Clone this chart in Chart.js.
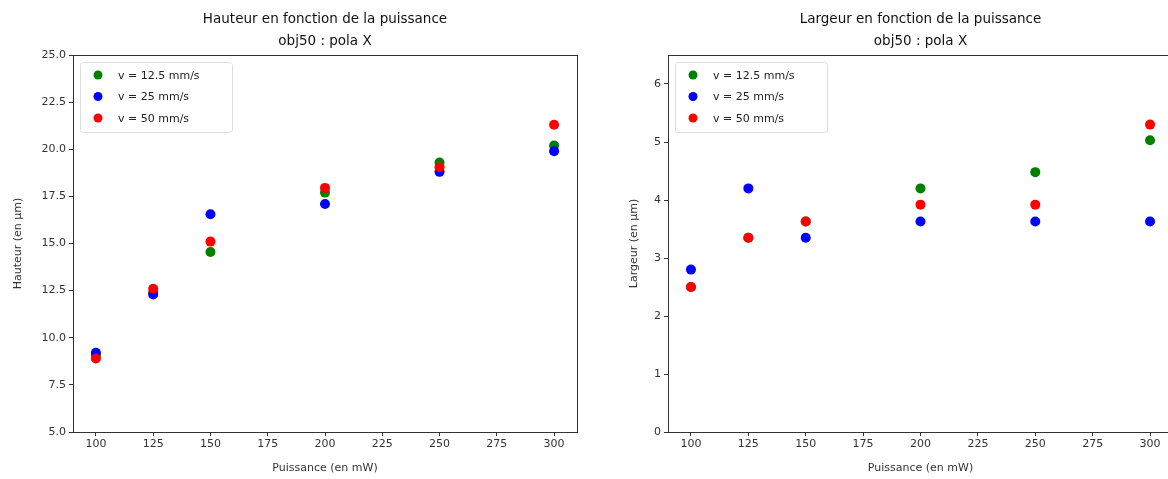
<!DOCTYPE html>
<html>
<head>
<meta charset="utf-8">
<script src="https://cdn.jsdelivr.net/npm/chart.js@4.4.0/dist/chart.umd.min.js"></script>
<style>
  html, body { margin: 0; padding: 0; background: #fff; overflow: hidden; }
  body { width: 1168px; height: 479px; position: relative; }
  .box { position: absolute; top: 0; height: 479px; }
  #leftBox { left: 0; width: 600px; }
  #rightBox { left: 590px; width: 610px; }
</style>
</head>
<body>
<div class="box" id="leftBox"><canvas id="hauteur"></canvas></div>
<div class="box" id="rightBox"><canvas id="largeur"></canvas></div>
<script>
// puissance (mW)
const power = [100, 125, 150, 200, 250, 300];
const powerTicks = [100, 125, 150, 175, 200, 225, 250, 275, 300];

const seriesLabels = ['v = 12.5 mm/s', 'v = 25 mm/s', 'v = 50 mm/s'];
const seriesColors = ['#008000', '#0000ff', '#ff0000'];

// hauteur (µm)
const height125 = [9.05, 12.4, 14.55, 17.7, 19.3, 20.2];
const height25 = [9.2, 12.3, 16.55, 17.1, 18.8, 19.9];
const height50 = [8.9, 12.6, 15.1, 17.95, 19.05, 21.3];
const heightTicks = [5, 7.5, 10, 12.5, 15, 17.5, 20, 22.5, 25];

// largeur (µm)
const width125 = [2.5, 3.35, 3.63, 4.2, 4.48, 5.03];
const width25 = [2.8, 4.2, 3.35, 3.63, 3.63, 3.63];
const width50 = [2.5, 3.35, 3.63, 3.92, 3.92, 5.3];
const widthTicks = [0, 1, 2, 3, 4, 5, 6];

Chart.defaults.font.family = 'DejaVu Sans';
Chart.defaults.color = '#333';

const frameAndLegend = {
  id: 'frameAndLegend',
  afterDraw(chart, args, opts) {
    const ctx = chart.ctx;
    const a = chart.chartArea;
    ctx.save();
    // spines
    ctx.strokeStyle = '#333';
    ctx.lineWidth = 1;
    ctx.strokeRect(a.left + 0.5, a.top + 0.5, a.right - a.left, a.bottom - a.top);

    // title
    ctx.fillStyle = '#111';
    ctx.font = '13.5px "DejaVu Sans"';
    ctx.textAlign = 'center';
    ctx.textBaseline = 'middle';
    const cx = (a.left + a.right) / 2;
    ctx.fillText(opts.title[0], cx, 19);
    ctx.fillText(opts.title[1], cx, 41);

    // legend
    const lx = a.left + 7, ly = a.top + 7;
    const lw = 152, lh = 70;
    ctx.fillStyle = 'rgba(255,255,255,0.8)';
    ctx.strokeStyle = '#ddd';
    ctx.beginPath();
    ctx.roundRect(lx + 0.5, ly + 0.5, lw, lh, 3);
    ctx.fill();
    ctx.stroke();
    ctx.font = '11px "DejaVu Sans"';
    ctx.textAlign = 'left';
    chart.data.datasets.forEach((ds, i) => {
      const y = ly + 13 + i * 21.5;
      ctx.fillStyle = ds.backgroundColor;
      ctx.beginPath();
      ctx.arc(lx + 18, y, 4.5, 0, Math.PI * 2);
      ctx.fill();
      ctx.fillStyle = '#222';
      ctx.fillText(ds.label, lx + 38, y + 1);
    });
    ctx.restore();
  }
};

function makeChart(id, values, yTicks, yMin, yMax, yTitle, yWidth, titlePad, padRight, title, fmt) {
  const ctx = document.getElementById(id).getContext('2d');
  return new Chart(ctx, {
    type: 'scatter',
    data: {
      datasets: values.map((vals, i) => ({
        label: seriesLabels[i],
        data: power.map((p, j) => ({ x: p, y: vals[j] })),
        backgroundColor: seriesColors[i],
        borderColor: seriesColors[i],
        pointRadius: 5,
        pointBorderWidth: 0,
        order: values.length - 1 - i,
      })),
    },
    options: {
      responsive: true,
      maintainAspectRatio: false,
      animation: false,
      layout: { padding: { top: 55, right: padRight, left: 0, bottom: 0 } },
      plugins: {
        legend: { display: false },
        tooltip: { enabled: false },
        frameAndLegend: { title: title },
      },
      scales: {
        x: {
          type: 'linear',
          min: 90,
          max: 310,
          afterBuildTicks: scale => {
            scale.ticks = powerTicks.map(v => ({ value: v }));
          },
          afterFit: scale => {
            scale.height = 47;
          },
          ticks: { font: { size: 11 }, color: '#333', padding: 2, maxRotation: 0 },
          grid: { drawOnChartArea: false, drawTicks: true, tickLength: 4, color: '#333' },
          border: { display: true, color: '#333' },
          title: { display: true, text: 'Puissance (en mW)', font: { size: 11 }, color: '#333', padding: { top: 1 } },
        },
        y: {
          type: 'linear',
          min: yMin,
          max: yMax,
          afterBuildTicks: scale => {
            scale.ticks = yTicks.map(v => ({ value: v }));
          },
          afterFit: scale => {
            scale.width = yWidth;
          },
          ticks: { font: { size: 11 }, color: '#333', padding: 3, callback: fmt },
          grid: { drawOnChartArea: false, drawTicks: true, tickLength: 4, color: '#333' },
          border: { display: true, color: '#333' },
          title: { display: true, text: yTitle, font: { size: 11 }, color: '#333', padding: { top: titlePad, bottom: 2 } },
        },
      },
    },
    plugins: [frameAndLegend],
  });
}

makeChart('hauteur', [height125, height25, height50], heightTicks, 5, 25,
  'Hauteur (en µm)', 73, 12, 23,
  ['Hauteur en fonction de la puissance', 'obj50 : pola X'],
  v => v.toFixed(1));

makeChart('largeur', [width125, width25, width50], widthTicks, 0, 6.5,
  'Largeur (en µm)', 78, 38, 27,
  ['Largeur en fonction de la puissance', 'obj50 : pola X'],
  v => String(v));
</script>
</body>
</html>
